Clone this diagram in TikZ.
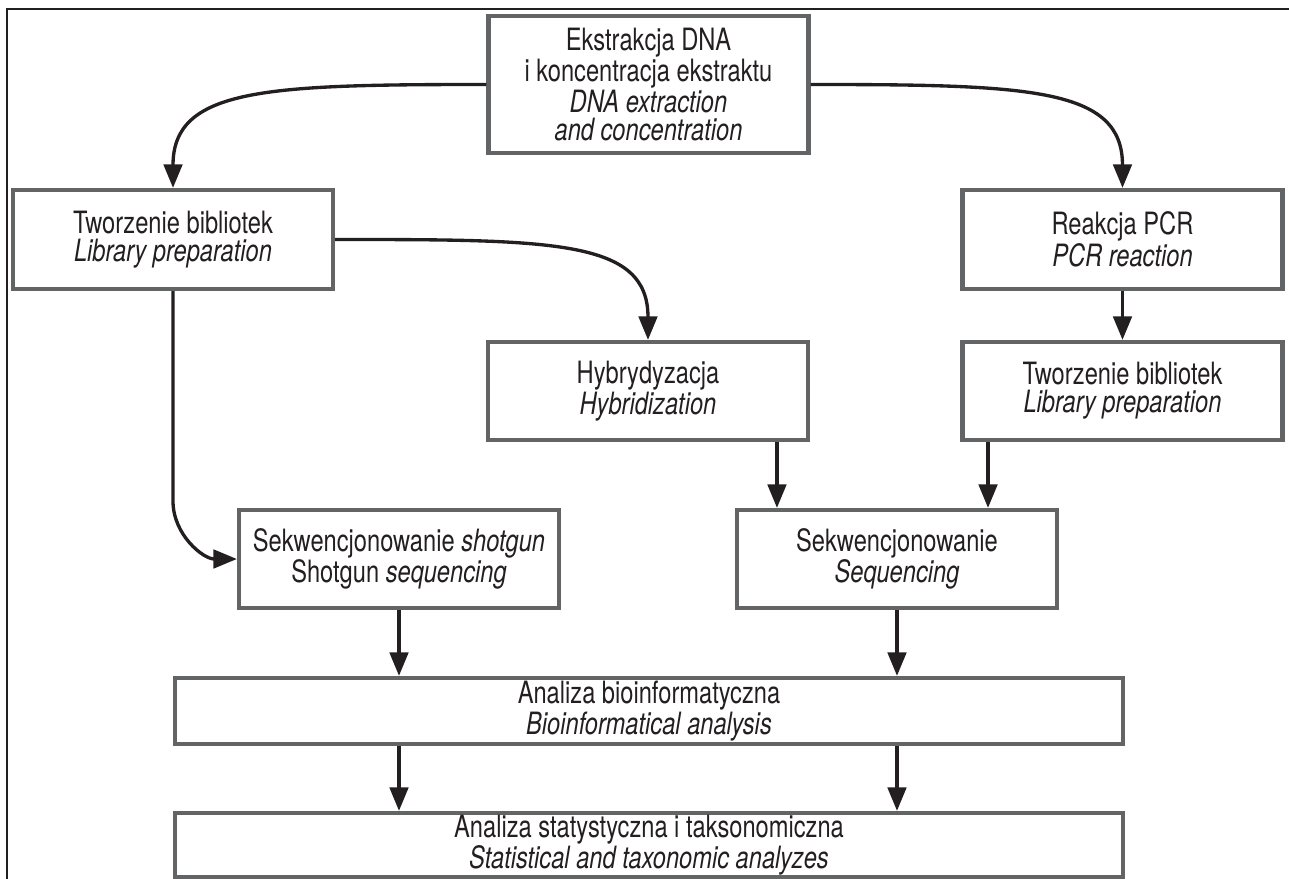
\documentclass[tikz,border=0pt]{standalone}
\usepackage{fontspec}
\setmainfont{TeX Gyre Heros}[FakeStretch=0.77]
\usetikzlibrary{arrows.meta}
\definecolor{boxgray}{HTML}{636466}
\definecolor{ink}{HTML}{231F20}

\begin{document}
\begin{tikzpicture}[x=0.02cm,y=0.02cm,
    box/.style={draw=boxgray,line width=2.4pt,fill=white,align=center,inner sep=0pt,
      text=ink,font=\fontsize{17.5}{16}\selectfont,minimum width=6.4cm},
    arr/.style={draw=ink,line width=1.9pt,-{Triangle[length=0.47cm,width=0.37cm]}},
    curvy/.style={out distance=4.4cm,in distance=2cm}]
    \useasboundingbox (0,0) rectangle (1289,-879);
    \draw[ink,line width=0.6pt] (1289,-9) -- (7,-9) -- (7,-879);

    \node[box,minimum height=2.74cm] (ext) at (648.5,-84.5) {Ekstrakcja DNA\\i koncentracja ekstraktu\\\textit{DNA extraction}\\\textit{and concentration}};
    \node[box,minimum height=1.98cm] (libL) at (173,-239.5) {Tworzenie bibliotek\\\textit{Library preparation}};
    \node[box,minimum height=1.98cm] (pcr) at (1122.5,-239.5) {Reakcja PCR\\\textit{PCR reaction}};
    \node[box,minimum height=1.96cm] (hyb) at (648,-391) {Hybrydyzacja\\\textit{Hybridization}};
    \node[box,minimum height=1.96cm] (libR) at (1122.5,-391) {Tworzenie bibliotek\\\textit{Library preparation}};
    \node[box,minimum height=1.96cm] (shot) at (399,-559) {Sekwencjonowanie \textit{shotgun}\\Shotgun \textit{sequencing}};
    \node[box,minimum height=1.96cm] (seq) at (897,-559) {Sekwencjonowanie\\\textit{Sequencing}};
    \node[box,minimum width=18.96cm,minimum height=1.32cm] (bio) at (649,-711) {Analiza bioinformatyczna\\\textit{Bioinformatical analysis}};
    \node[box,minimum width=18.96cm,minimum height=1.28cm] (stat) at (649,-845) {Analiza statystyczna i taksonomiczna\\\textit{Statistical and taxonomic analyzes}};

    % curved connectors
    \draw[arr] (ext.west) to[out=180,in=90,curvy] (libL.north);
    \draw[arr] (ext.east) to[out=0,in=90,curvy] (pcr.north);
    \draw[arr] (libL.east) to[out=0,in=90,curvy] (hyb.north);
    \draw[arr] (libL.south) -- ++(0,-210) to[out=-90,in=180] (shot.west);

    % straight connectors
    \draw[arr] (pcr.south) -- (libR.north);
    \draw[arr] ([xshift=2.58cm]hyb.south) -- ([xshift=2.58cm]hyb.south |- seq.north);
    \draw[arr] ([xshift=-2.69cm]libR.south) -- ([xshift=-2.69cm]libR.south |- seq.north);
    \draw[arr] (shot.south) -- (shot.south |- bio.north);
    \draw[arr] (seq.south) -- (seq.south |- bio.north);
    \draw[arr] (shot.south |- bio.south) -- (shot.south |- stat.north);
    \draw[arr] (seq.south |- bio.south) -- (seq.south |- stat.north);
\end{tikzpicture}
\end{document}
